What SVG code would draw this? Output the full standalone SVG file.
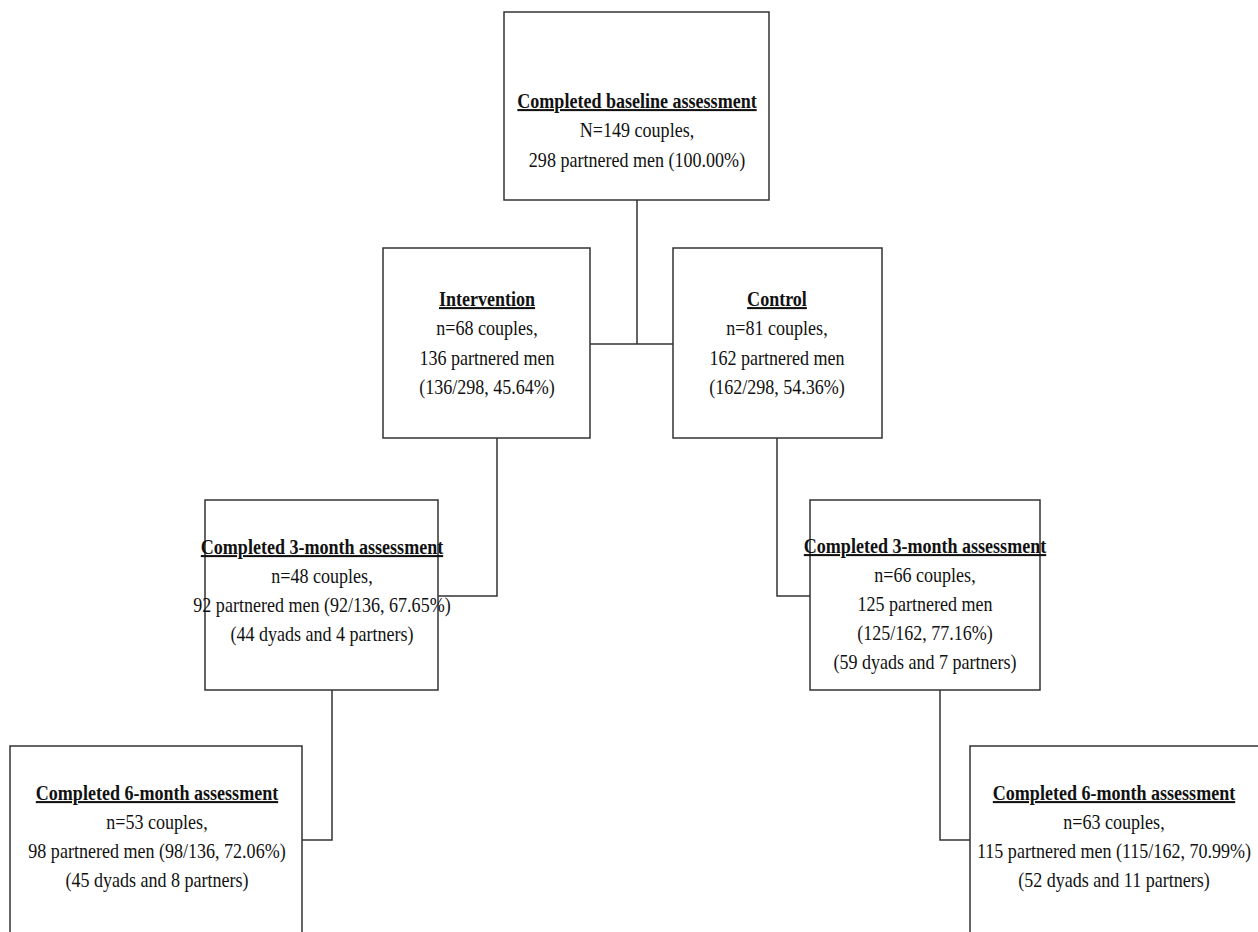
<svg xmlns="http://www.w3.org/2000/svg" width="1258" height="932" viewBox="0 0 1258 932">
<style>
.box{fill:#fff;stroke:#333;stroke-width:1.5}
.t{font-family:"Liberation Serif","Times New Roman",serif;font-size:20.5px;fill:#111;text-anchor:middle}
.h{font-weight:bold;text-decoration:underline}
.c{fill:none;stroke:#333;stroke-width:1.5}
</style>
<rect width="1258" height="932" fill="#fff"/>
<g id="connectors">
<path class="c" d="M637,200 V344 M590,344 H673"/>
<path class="c" d="M497,438 V596 H438"/>
<path class="c" d="M777,438 V596 H810"/>
<path class="c" d="M332,690 V840 H302"/>
<path class="c" d="M940,690 V840 H970"/>
</g>
<g id="baseline">
<rect class="box" x="504" y="12" width="265" height="188"/>
<text class="t h" transform="translate(637,108) scale(0.88,1)">Completed baseline assessment</text>
<text class="t" transform="translate(637,137) scale(0.88,1)">N=149 couples,</text>
<text class="t" transform="translate(637,167) scale(0.88,1)">298 partnered men (100.00%)</text>
</g>
<g id="intervention">
<rect class="box" x="383" y="248" width="207" height="190"/>
<text class="t h" transform="translate(487,306) scale(0.88,1)">Intervention</text>
<text class="t" transform="translate(487,335) scale(0.88,1)">n=68 couples,</text>
<text class="t" transform="translate(487,365) scale(0.88,1)">136 partnered men</text>
<text class="t" transform="translate(487,394) scale(0.88,1)">(136/298, 45.64%)</text>
</g>
<g id="control">
<rect class="box" x="673" y="248" width="209" height="190"/>
<text class="t h" transform="translate(777,306) scale(0.88,1)">Control</text>
<text class="t" transform="translate(777,335) scale(0.88,1)">n=81 couples,</text>
<text class="t" transform="translate(777,365) scale(0.88,1)">162 partnered men</text>
<text class="t" transform="translate(777,394) scale(0.88,1)">(162/298, 54.36%)</text>
</g>
<g id="int3">
<rect class="box" x="205" y="500" width="233" height="190"/>
<text class="t h" transform="translate(322,554) scale(0.88,1)">Completed 3-month assessment</text>
<text class="t" transform="translate(322,583) scale(0.88,1)">n=48 couples,</text>
<text class="t" transform="translate(322,612) scale(0.88,1)">92 partnered men (92/136, 67.65%)</text>
<text class="t" transform="translate(322,641) scale(0.88,1)">(44 dyads and 4 partners)</text>
</g>
<g id="ctl3">
<rect class="box" x="810" y="500" width="230" height="190"/>
<text class="t h" transform="translate(925,553) scale(0.88,1)">Completed 3-month assessment</text>
<text class="t" transform="translate(925,582) scale(0.88,1)">n=66 couples,</text>
<text class="t" transform="translate(925,611) scale(0.88,1)">125 partnered men</text>
<text class="t" transform="translate(925,640) scale(0.88,1)">(125/162, 77.16%)</text>
<text class="t" transform="translate(925,669) scale(0.88,1)">(59 dyads and 7 partners)</text>
</g>
<g id="int6">
<rect class="box" x="10" y="746" width="292" height="200"/>
<text class="t h" transform="translate(157,800) scale(0.88,1)">Completed 6-month assessment</text>
<text class="t" transform="translate(157,829) scale(0.88,1)">n=53 couples,</text>
<text class="t" transform="translate(157,858) scale(0.88,1)">98 partnered men (98/136, 72.06%)</text>
<text class="t" transform="translate(157,887) scale(0.88,1)">(45 dyads and 8 partners)</text>
</g>
<g id="ctl6">
<rect class="box" x="970" y="746" width="300" height="200"/>
<text class="t h" transform="translate(1114,800) scale(0.88,1)">Completed 6-month assessment</text>
<text class="t" transform="translate(1114,829) scale(0.88,1)">n=63 couples,</text>
<text class="t" transform="translate(1114,858) scale(0.88,1)">115 partnered men (115/162, 70.99%)</text>
<text class="t" transform="translate(1114,887) scale(0.88,1)">(52 dyads and 11 partners)</text>
</g>
</svg>
